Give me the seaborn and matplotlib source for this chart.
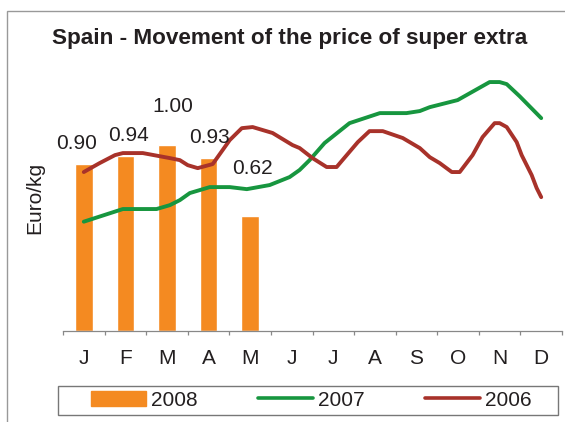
import numpy as np
import pandas as pd
import matplotlib
matplotlib.use("Agg")
import matplotlib.pyplot as plt
from matplotlib.patches import Patch, Rectangle
from matplotlib.lines import Line2D
import seaborn as sns

# --- data ---
months = ['Jan', 'Feb', 'Mar', 'Apr', 'May', 'Jun',
          'Jul', 'Aug', 'Sep', 'Oct', 'Nov', 'Dec']
month_labels = ['J', 'F', 'M', 'A', 'M', 'J', 'J', 'A', 'S', 'O', 'N', 'D']

bar_months = ['Jan', 'Feb', 'Mar', 'Apr', 'May']
price_2008 = [0.90, 0.94, 1.00, 0.93, 0.62]

# 2007 / 2006 readings: position in months (0 = Jan) and price
pos_2007 = [0.0, 0.94, 1.75, 2.07, 2.31, 2.55, 3.03, 3.51, 3.92, 4.47, 4.95,
            5.19, 5.43, 5.79, 6.39, 7.12, 7.76, 8.08, 8.32, 8.99, 9.76, 10.0,
            10.17, 10.48, 11.0]
price_2007 = [0.588, 0.656, 0.656, 0.677, 0.704, 0.742, 0.774, 0.774, 0.763,
              0.785, 0.828, 0.866, 0.919, 1.011, 1.118, 1.172, 1.172, 1.183,
              1.204, 1.242, 1.339, 1.339, 1.328, 1.263, 1.145]

pos_2006 = [0.0, 0.38, 0.75, 0.94, 1.42, 2.07, 2.31, 2.5, 2.74, 3.1, 3.51,
            3.8, 4.06, 4.54, 5.02, 5.19, 5.5, 5.84, 6.08, 6.22, 6.59, 6.87,
            7.19, 7.67, 8.08, 8.32, 8.56, 8.85, 9.04, 9.35, 9.59, 9.88, 10.0,
            10.17, 10.41, 10.53, 10.77, 10.89, 11.0]
price_2006 = [0.855, 0.903, 0.946, 0.957, 0.957, 0.930, 0.919, 0.892, 0.876,
              0.898, 1.027, 1.091, 1.097, 1.065, 1.000, 0.984, 0.930, 0.882,
              0.882, 0.919, 1.016, 1.075, 1.075, 1.038, 0.984, 0.935, 0.903,
              0.855, 0.855, 0.946, 1.043, 1.118, 1.118, 1.097, 1.016, 0.946,
              0.839, 0.769, 0.720]

# label offsets (points) from each bar top
label_dx = [-5, 2, 4, 1, 1.5]
label_dy = [10.8, 10.9, 24.1, 11.2, 29.9]

c_2008 = '#F48A21'
c_2007 = '#17963F'
c_2006 = '#A8322A'
txt = '#231F20'

sns.set_style('white')
plt.rcParams['font.family'] = ['Liberation Sans', 'DejaVu Sans']

W, H = 565, 422
fig = plt.figure(figsize=(W / 100, H / 100), dpi=100)
ax = fig.add_axes([63 / W, 1 - 331 / H, (562 - 63) / W, (331 - 67) / H])

sns.barplot(x=bar_months, y=price_2008, order=months, color=c_2008,
            width=0.42, saturation=1, ax=ax)
sns.lineplot(x=pos_2007, y=price_2007, color=c_2007, lw=2.8, sort=False, ax=ax)
sns.lineplot(x=pos_2006, y=price_2006, color=c_2006, lw=2.8, sort=False, ax=ax)

for i, v in enumerate(price_2008):
    ax.annotate(f'{v:.2f}', xy=(i, v), xytext=(label_dx[i], label_dy[i]),
                textcoords='offset points', ha='center', va='baseline',
                fontsize=15, color=txt)

ax.set_xlim(-0.5, 11.5)
ax.set_ylim(0, 1.42)
ax.set_ylabel('')
ax.set_yticks([])
ax.set_xticks(range(12))
ax.set_xticklabels(month_labels, fontsize=15, color=txt)
ax.set_xticks(np.arange(-0.5, 12, 1), minor=True)
ax.tick_params(axis='x', which='major', length=0, pad=13)
ax.tick_params(axis='x', which='minor', length=3.2, width=0.9,
               color='#888888', direction='out', bottom=True)
for s in ['left', 'top', 'right']:
    ax.spines[s].set_visible(False)
ax.spines['bottom'].set_color('#888888')
ax.spines['bottom'].set_linewidth(0.9)

fig.text(290 / W, 1 - 44 / H, 'Spain - Movement of the price of super extra',
         ha='center', va='baseline', fontsize=16.2, fontweight='bold', color=txt)
fig.text(34.5 / W, 1 - 198 / H, 'Euro/kg', rotation=90, ha='center',
         va='center', fontsize=15, color=txt)

handles = [Patch(color=c_2008),
           Line2D([], [], color=c_2007, lw=2.6),
           Line2D([], [], color=c_2006, lw=2.6)]
fig.legend(handles, ['2008', '2007', '2006'], loc='center',
           bbox_to_anchor=(311.5 / W, 1 - 400 / H), ncol=3, frameon=False,
           fontsize=15, handlelength=2.64, handletextpad=0.25,
           columnspacing=2.88, borderpad=0, handleheight=0.7,
           labelcolor=txt)

fig.patches.append(Rectangle((58 / W, 1 - 415 / H), 500 / W, 29 / H,
                             transform=fig.transFigure, fill=False,
                             edgecolor='#777777', lw=1))
fig.patches.append(Rectangle((7 / W, -0.1), 1.2, 1.1 - 11 / H,
                             transform=fig.transFigure, fill=False,
                             edgecolor='#999999', lw=1))

fig.savefig('out.png', dpi=100)
